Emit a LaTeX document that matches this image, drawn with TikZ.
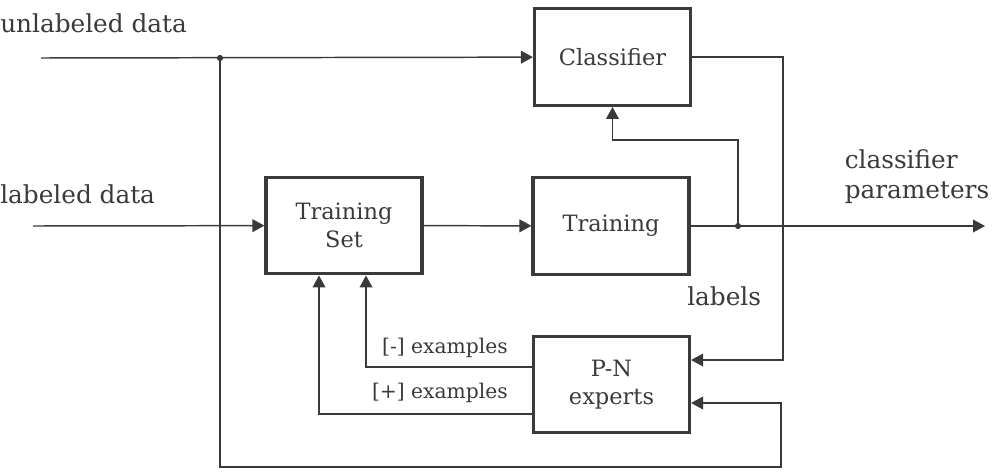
\documentclass[tikz,border=0pt]{standalone}
\usepackage{fontspec}
\setmainfont{DejaVu Serif}
\usetikzlibrary{arrows.meta,calc}
\definecolor{ink}{HTML}{3A3A3A}
\tikzset{
  block/.style={rectangle, draw=ink, line width=2.2pt, minimum width=3.9cm, minimum height=2.42cm, align=center, text=ink, font=\fontsize{16}{20}\selectfont},
  wire/.style={draw=ink, line width=1.05pt},
  flow/.style={wire, -{Triangle[length=8.5pt,width=9pt]}},
  tag/.style={text=ink, inner sep=0pt, font=\fontsize{17.6}{21.3}\selectfont},
  smalltag/.style={text=ink, inner sep=0pt, font=\fontsize{14.4}{16}\selectfont},
  junction/.style={circle, fill=ink, inner sep=0pt, minimum size=4.4pt},
}
\begin{document}
\begin{tikzpicture}[x=0.025cm, y=-0.025cm]
  \useasboundingbox (0, 0) rectangle (999, 475);
  % Nodes
  \node (classifier) [block] at (612.5, 57) {Classifier};
  \node (training) [block] at (611, 226) {Training};
  \node (tset) [block] at (344, 225.5) {Training\\Set};
  \node (pn) [block] at (611.5, 384.5) {P-N\\experts};
  % Labels
  \node (unlabeled) [tag, anchor=base west] at (0, 32) {unlabeled data};
  \node (labeled) [tag, anchor=base west] at (0, 203) {labeled data};
  \node (params) [tag, align=left, anchor=center] at (917, 177) {classifier\\parameters};
  \node (labels) [tag, anchor=base west] at (687, 305) {labels};
  \node (neg) [smalltag, anchor=base east] at (508, 353) {[-] examples};
  \node (pos) [smalltag, anchor=base east] at (508, 398) {[+] examples};
  % Junctions and ends
  \coordinate (u-in) at (41, 58);
  \coordinate (l-in) at (33, 226);
  \coordinate (out) at (985, 226);
  \node (u-split) [junction] at (220, 58) {};
  \node (t-split) [junction] at (738, 226) {};
  \coordinate (t-turn) at (738, 140);
  \coordinate (c-turn) at (783, 360);
  \coordinate (loop-low) at (781, 467);
  \coordinate (loop-up) at (781, 403);
  % Arrow
  \draw[flow] (u-in) -- (classifier);
  \draw[flow] (l-in) -- (tset);
  \draw[flow] (tset) -- (training);
  \draw[wire] (training) -- (t-split);
  \draw[flow] (t-split) -- (out);
  \draw[flow] (t-split.center) -- (t-turn) -| (classifier);
  \draw[flow] (classifier.east) -| (c-turn) -- (c-turn -| pn.east);
  \draw[flow] (u-split.center) |- (loop-low) -- (loop-up) -- (loop-up -| pn.east);
  \draw[flow] ($(pn.west)+(0,-17.5)$) -| ($(tset.south)+(22,0)$);
  \draw[flow] ($(pn.west)+(0,29.5)$) -| ($(tset.south)+(-25,0)$);
\end{tikzpicture}
\end{document}
